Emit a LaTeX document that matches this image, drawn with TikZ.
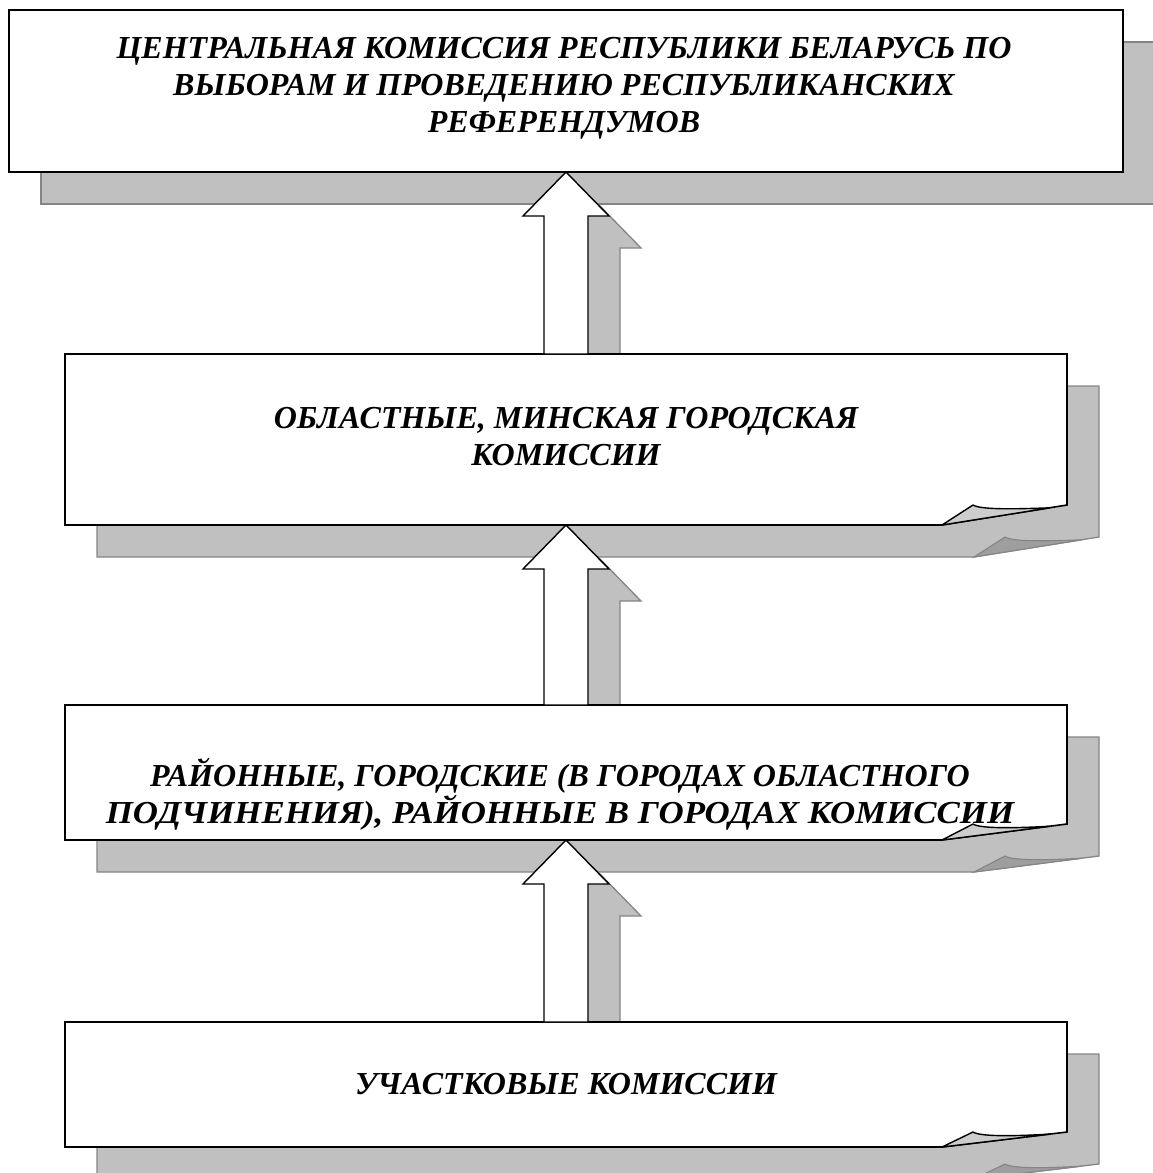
\documentclass[tikz,border=0pt]{standalone}
\usepackage{fontspec}
\setmainfont{Liberation Serif}
\usetikzlibrary{calc}

\definecolor{shadowgray}{HTML}{C0C0C0}
\definecolor{shadowline}{HTML}{858585}
\definecolor{flapgray}{HTML}{CDCDCD}
\definecolor{shadowflap}{HTML}{9E9E9E}

\tikzset{
    sheet/.style={draw=none, inner sep=0pt, outer sep=0pt},
    sheetline/.style={draw=black, line width=1.6pt, fill=white, line join=miter},
    flapline/.style={draw=black, line width=1.4pt, fill=flapgray, line join=round},
    shade/.style={draw=shadowline, line width=1.3pt, fill=shadowgray},
    shadeflap/.style={draw=shadowline, line width=1.1pt, fill=shadowflap},
    arrowline/.style={draw=black, line width=1.4pt, fill=white, line join=miter},
    caption/.style={align=center, font=\fontsize{32}{37}\selectfont\bfseries\itshape, inner sep=0pt}
}

\newcommand{\sheetpath}[2]{(#1.north west) -- (#1.north east) -- ([yshift=#2]#1.south east)
    -- ([xshift=-125pt]#1.south east) -- (#1.south west) -- cycle}
\newcommand{\flappath}[2]{([xshift=-125pt]#1.south east) -- ([xshift=-94pt,yshift=#2]#1.south east)
    .. controls ([xshift=-86pt,yshift=#2-5pt]#1.south east) and ([xshift=-50pt,yshift=#2-4pt]#1.south east)
    .. ([xshift=-17pt,yshift=0.86*#2]#1.south east) -- cycle}
\newcommand{\uppath}[2]{let \p1=(#1.south), \p2=(#2.north) in
    (\x1,\y1) -- ++(43pt,-44pt) -- ++(-21pt,0pt) -- (\x1+22pt,\y2)
    -- (\x1-22pt,\y2) -- (\x1-22pt,\y1-44pt) -- ++(-21pt,0pt) -- cycle}

\begin{document}
\begin{tikzpicture}[x=1pt, y=-1pt]
    \useasboundingbox (0,0) rectangle (1152,1173);

    \node[sheet, minimum width=1114pt, minimum height=162pt] (cec) at (566,91) {};
    \node[sheet, minimum width=1002pt, minimum height=171pt] (obl) at (566,439.5) {};
    \node[sheet, minimum width=1002pt, minimum height=135pt] (ray) at (566,772.5) {};
    \node[sheet, minimum width=1002pt, minimum height=125pt] (uch) at (566,1084.5) {};

    \begin{scope}[transform canvas={shift={(32pt,-32pt)}}]
        \draw[shade] (cec.north west) rectangle (cec.south east);
        \foreach \b/\d in {obl/20pt, ray/16pt, uch/15pt} {
            \draw[shade] \sheetpath{\b}{\d};
            \draw[shadeflap] \flappath{\b}{\d};
        }
        \draw[shade] \uppath{cec}{obl};
        \draw[shade] \uppath{obl}{ray};
        \draw[shade] \uppath{ray}{uch};
    \end{scope}

    \draw[sheetline] (cec.north west) rectangle (cec.south east);
    \foreach \b/\d in {obl/20pt, ray/16pt, uch/15pt} {
        \draw[sheetline] \sheetpath{\b}{\d};
        \draw[flapline] \flappath{\b}{\d};
    }

    \draw[arrowline] \uppath{cec}{obl};
    \draw[arrowline] \uppath{obl}{ray};
    \draw[arrowline] \uppath{ray}{uch};

    \node[caption] (cectxt) at (564,88) {ЦЕНТРАЛЬНАЯ КОМИССИЯ РЕСПУБЛИКИ БЕЛАРУСЬ ПО\\ВЫБОРАМ И ПРОВЕДЕНИЮ РЕСПУБЛИКАНСКИХ\\РЕФЕРЕНДУМОВ};
    \node[caption] (obltxt) at (566,437) {ОБЛАСТНЫЕ, МИНСКАЯ ГОРОДСКАЯ\\КОМИССИИ};
    \node[caption] (raytxt) at (560,794) {РАЙОННЫЕ, ГОРОДСКИЕ (В ГОРОДАХ ОБЛАСТНОГО\\\scalebox{1.09}[1]{ПОДЧИНЕНИЯ), РАЙОННЫЕ В ГОРОДАХ КОМИССИИ}};
    \node[caption] (uchtxt) at (566,1084) {УЧАСТКОВЫЕ КОМИССИИ};

\end{tikzpicture}
\end{document}
